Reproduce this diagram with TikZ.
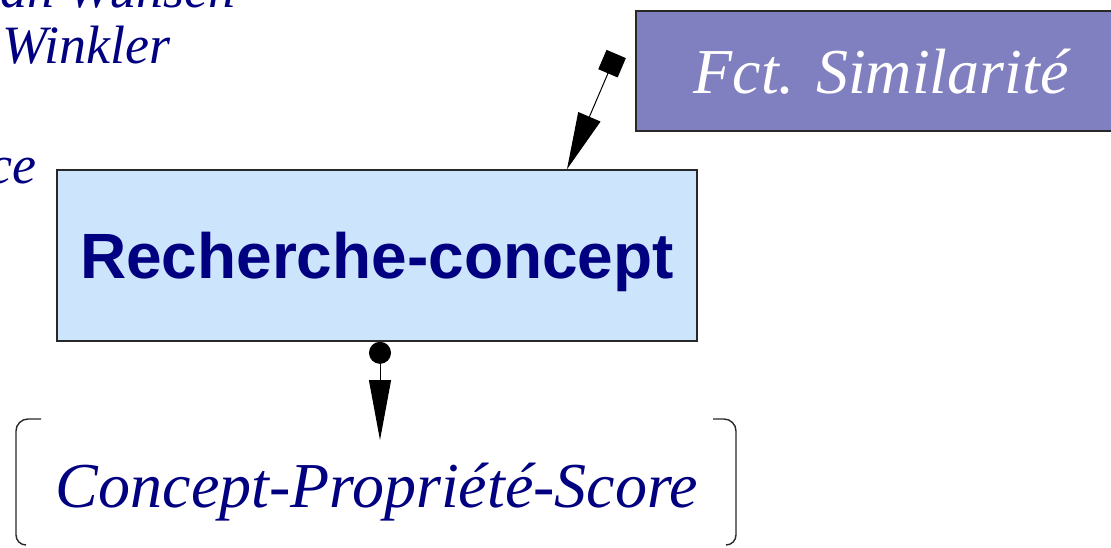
\documentclass[tikz,border=0pt]{standalone}
\usepackage{fontspec}
\setmainfont{Liberation Serif}
\setsansfont{Liberation Sans}
\usepackage{tikz}
\usetikzlibrary{positioning, arrows.meta, calc}
\definecolor{navytext}{RGB}{0,0,128}
\definecolor{simpurple}{RGB}{128,128,192}
\definecolor{searchblue}{RGB}{204,228,252}
\definecolor{framegray}{RGB}{40,40,40}
\newcommand{\BigFont}{\fontsize{64}{72}\selectfont}
\newcommand{\SideFont}{\fontsize{54}{60}\selectfont}
\tikzset{
    box/.style={draw=framegray, line width=1.6pt, inner sep=0pt, text depth=0pt},
    algo/.style={font=\SideFont\itshape, text=navytext, inner sep=0pt, anchor=base west},
    link/.style={draw=black, line width=1pt},
    bracketline/.style={draw=framegray, line width=1.4pt},
}

\begin{document}
\begin{tikzpicture}[x=1pt, y=-1pt]
    \useasboundingbox (0,0) rectangle (1111,547);
    \clip (0,0) rectangle (1111,547);

    \node[algo] (wunsch) at (0,7) {an Wunsch};
    \node[algo] (winkler) at (2,63) {Winkler};
    \node[algo] (dist) at (-12,183) {ce};

    \node[box, fill=simpurple, minimum width=490pt, minimum height=120pt,
          font=\BigFont\itshape, text=white] (fct) at (881,71) {Fct. Similarité};
    \node[box, fill=searchblue, minimum width=640pt, minimum height=171pt,
          font=\BigFont\sffamily\bfseries, text=navytext] (search) at (377,255.5) {Recherche-concept};
    \node[anchor=base, inner sep=0pt, font=\BigFont\itshape, text=navytext] (score) at (377,507) {Concept-Propriété-Score};

    \coordinate (simout) at ([xshift=-19pt,yshift=17pt]fct.west);
    \draw[link, {Square[length=21pt,width=21pt]}-{Triangle[length=57pt,width=24pt]}]
        (simout) -- ([xshift=190pt]search.north);
    \draw[link, {Circle[length=22pt]}-{Triangle[length=60pt,width=22pt]}]
        ([xshift=3pt]search.south) -- ([shift={(3pt,67pt)}]score.base);

    \draw[bracketline] ([shift={(-336pt,88pt)}]score.base) -- ++(-13,0)
        arc[start angle=90, end angle=180, radius=12pt] -- ++(0,104)
        arc[start angle=180, end angle=270, radius=10pt];
    \draw[bracketline] ([shift={(336pt,88pt)}]score.base) -- ++(11,0)
        arc[start angle=90, end angle=0, radius=12pt] -- ++(0,104)
        arc[start angle=0, end angle=-90, radius=10pt];
\end{tikzpicture}
\end{document}
